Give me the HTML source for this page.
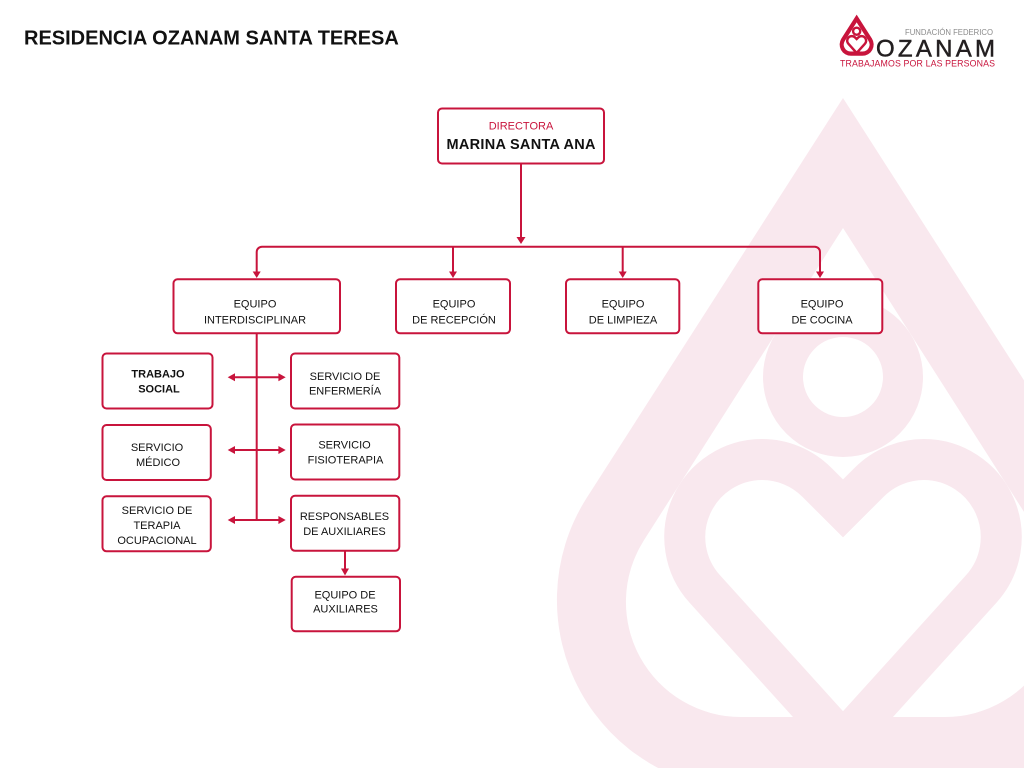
<!DOCTYPE html>
<html>
<head>
<meta charset="utf-8">
<style>
html,body{margin:0;padding:0;background:#fff;}
svg{display:block;}
text{font-family:"Liberation Sans",Arial,sans-serif;}
</style>
</head>
<body>
<svg width="1024" height="768" viewBox="0 0 1024 768" xmlns="http://www.w3.org/2000/svg">
  <rect width="1024" height="768" fill="#ffffff"/>

  <!-- watermark -->
  <g>
    <path fill="#f9e8ee" d="M843 98 L586.3 498.5 A190 190 0 0 0 747 790 L939 790 A190 190 0 0 0 1099.7 498.5 Z"/>
    <path fill="#ffffff" d="M843 228 L643.7 540.6 A115 115 0 0 0 741 717 L945 717 A115 115 0 0 0 1042.3 540.6 Z"/>
    <circle cx="843" cy="377" r="60" fill="none" stroke="#f9e8ee" stroke-width="40"/>
    <path fill="none" stroke="#f9e8ee" stroke-width="41" stroke-linejoin="miter" stroke-miterlimit="10"
      d="M843 741.7 L704.7 588.9 A77.5 77.5 0 0 1 762 459.5 A77.5 77.5 0 0 1 816.8 482.2 L843 508.4 L869.2 482.2 A77.5 77.5 0 0 1 924 459.5 A77.5 77.5 0 0 1 981.3 588.9 Z"/>
  </g>

  <!-- title -->
  <text x="24" y="44.3" font-size="20" font-weight="bold" fill="#111">RESIDENCIA OZANAM SANTA TERESA</text>

  <!-- logo -->
  <g transform="translate(806.5 8.8) scale(0.0595)">
    <path fill="#c8143c" d="M843 98 L586.3 498.5 A190 190 0 0 0 747 790 L939 790 A190 190 0 0 0 1099.7 498.5 Z"/>
    <path fill="#ffffff" d="M843 228 L643.7 540.6 A115 115 0 0 0 741 717 L945 717 A115 115 0 0 0 1042.3 540.6 Z"/>
    <circle cx="843" cy="377" r="60" fill="none" stroke="#c8143c" stroke-width="40"/>
    <path fill="none" stroke="#c8143c" stroke-width="41" stroke-linejoin="miter" stroke-miterlimit="10"
      d="M843 741.7 L704.7 588.9 A77.5 77.5 0 0 1 762 459.5 A77.5 77.5 0 0 1 816.8 482.2 L843 508.4 L869.2 482.2 A77.5 77.5 0 0 1 924 459.5 A77.5 77.5 0 0 1 981.3 588.9 Z"/>
  </g>
  <text x="905" y="35" font-size="8.5" fill="#8a8a8a" textLength="88" lengthAdjust="spacingAndGlyphs">FUNDACIÓN FEDERICO</text>
  <text x="876" y="56.7" font-size="24" fill="#231f20" stroke="#231f20" stroke-width="0.5" textLength="119" lengthAdjust="spacing">OZANAM</text>
  <text x="840" y="66.5" font-size="8.8" fill="#c8143c" textLength="155" lengthAdjust="spacing">TRABAJAMOS POR LAS PERSONAS</text>

  <!-- connectors -->
  <g stroke="#c8143c" stroke-width="2" fill="none">
    <line x1="521" y1="164" x2="521" y2="238"/>
    <path d="M256.7 272 L256.7 252 A5.3 5.3 0 0 1 262 246.7 L814.7 246.7 A5.3 5.3 0 0 1 820 252 L820 272"/>
    <line x1="453" y1="246.7" x2="453" y2="272"/>
    <line x1="622.7" y1="246.7" x2="622.7" y2="272"/>
    <line x1="256.7" y1="334" x2="256.7" y2="520"/>
    <line x1="233" y1="377.3" x2="280" y2="377.3"/>
    <line x1="233" y1="450" x2="280" y2="450"/>
    <line x1="233" y1="520" x2="280" y2="520"/>
    <line x1="345" y1="551" x2="345" y2="569"/>
  </g>
  <g fill="#c8143c">
    <polygon points="516.5,237 525.5,237 521,244"/>
    <polygon points="252.7,271.5 260.7,271.5 256.7,278"/>
    <polygon points="449,271.5 457,271.5 453,278"/>
    <polygon points="618.7,271.5 626.7,271.5 622.7,278"/>
    <polygon points="816,271.5 824,271.5 820,278"/>
    <polygon points="227.7,377.3 235,373.3 235,381.3"/>
    <polygon points="285.7,377.3 278.4,373.3 278.4,381.3"/>
    <polygon points="227.7,450 235,446 235,454"/>
    <polygon points="285.7,450 278.4,446 278.4,454"/>
    <polygon points="227.7,520 235,516 235,524"/>
    <polygon points="285.7,520 278.4,516 278.4,524"/>
    <polygon points="341,568.5 349,568.5 345,575.5"/>
  </g>

  <!-- boxes -->
  <g fill="#ffffff" stroke="#c8143c" stroke-width="2">
    <rect x="438" y="108.5" width="166" height="55" rx="4"/>
    <rect x="173.5" y="279.3" width="166.5" height="54" rx="4"/>
    <rect x="396" y="279.3" width="114" height="54" rx="4"/>
    <rect x="566" y="279.3" width="113.3" height="54" rx="4"/>
    <rect x="758.3" y="279.3" width="124" height="54" rx="4"/>
    <rect x="102.5" y="353.5" width="110" height="55" rx="4"/>
    <rect x="291" y="353.5" width="108.3" height="55" rx="4"/>
    <rect x="102.5" y="425" width="108.3" height="55" rx="4"/>
    <rect x="291" y="424.5" width="108.3" height="55" rx="4"/>
    <rect x="102.5" y="496.3" width="108.3" height="55" rx="4"/>
    <rect x="291" y="495.8" width="108.3" height="55" rx="4"/>
    <rect x="291.7" y="576.8" width="108.3" height="54.5" rx="4"/>
  </g>

  <!-- box labels -->
  <g font-size="11" fill="#111" text-anchor="middle">
    <text x="521" y="129.3" fill="#c8143c">DIRECTORA</text>
    <text x="521" y="149" font-size="14.5" font-weight="bold" textLength="149" lengthAdjust="spacing">MARINA SANTA ANA</text>

    <text x="255" y="307.3">EQUIPO</text>
    <text x="255" y="323.3">INTERDISCIPLINAR</text>
    <text x="454" y="307.3">EQUIPO</text>
    <text x="454" y="323.3">DE RECEPCIÓN</text>
    <text x="623" y="307.3">EQUIPO</text>
    <text x="623" y="323.3">DE LIMPIEZA</text>
    <text x="822" y="307.3">EQUIPO</text>
    <text x="822" y="323.3">DE COCINA</text>

    <text x="158" y="377.3" font-weight="bold">TRABAJO</text>
    <text x="159" y="392.3" font-weight="bold">SOCIAL</text>
    <text x="157" y="451">SERVICIO</text>
    <text x="158" y="466">MÉDICO</text>
    <text x="157" y="514">SERVICIO DE</text>
    <text x="157" y="529">TERAPIA</text>
    <text x="157" y="544">OCUPACIONAL</text>

    <text x="345" y="380">SERVICIO DE</text>
    <text x="345" y="394.5">ENFERMERÍA</text>
    <text x="344.5" y="448.3">SERVICIO</text>
    <text x="345.5" y="463.3">FISIOTERAPIA</text>
    <text x="344.5" y="520">RESPONSABLES</text>
    <text x="344.5" y="535">DE AUXILIARES</text>
    <text x="345" y="598.3">EQUIPO DE</text>
    <text x="345.5" y="612.7">AUXILIARES</text>
  </g>
</svg>
</body>
</html>
